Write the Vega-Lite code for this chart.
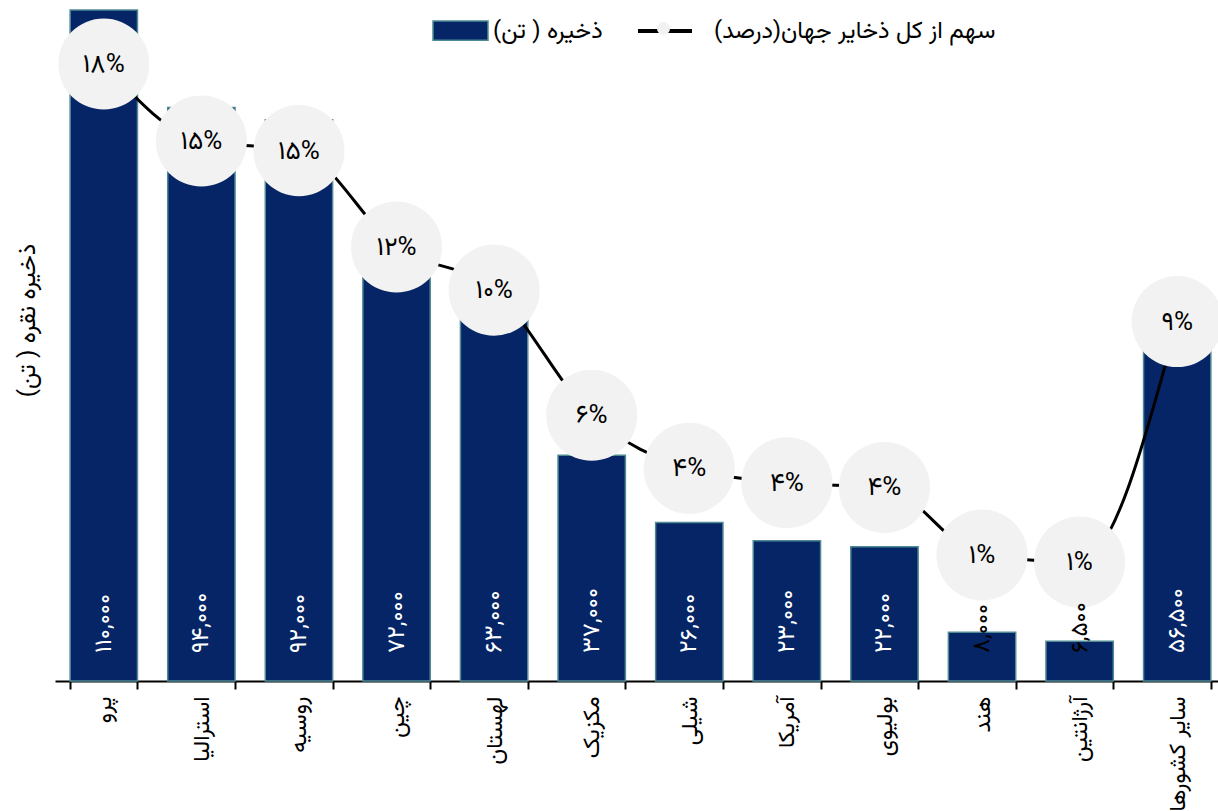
{
  "$schema": "https://vega.github.io/schema/vega-lite/v6.json",
  "autosize": {"type": "none"},
  "padding": {"left": 55, "top": 0, "right": 0, "bottom": 130},
  "width": 1171,
  "height": 681,
  "config": {
    "font": "Vazirmatn, Noto Sans Arabic, Noto Naskh Arabic, DejaVu Sans",
    "view": {"stroke": null}
  },
  "data": {
    "values": [
      {"country": "پرو", "value": 110000, "pct": 18.03, "label": "۱۱۰,۰۰۰", "pctLabel": "۱۸%", "s1": "ذخیره ( تن)", "s2": "سهم از کل ذخایر جهان(درصد)"},
      {"country": "استرالیا", "value": 94000, "pct": 15.41, "label": "۹۴,۰۰۰", "pctLabel": "۱۵%", "s1": "ذخیره ( تن)", "s2": "سهم از کل ذخایر جهان(درصد)"},
      {"country": "روسیه", "value": 92000, "pct": 15.08, "label": "۹۲,۰۰۰", "pctLabel": "۱۵%", "s1": "ذخیره ( تن)", "s2": "سهم از کل ذخایر جهان(درصد)"},
      {"country": "چین", "value": 72000, "pct": 11.8, "label": "۷۲,۰۰۰", "pctLabel": "۱۲%", "s1": "ذخیره ( تن)", "s2": "سهم از کل ذخایر جهان(درصد)"},
      {"country": "لهستان", "value": 63000, "pct": 10.33, "label": "۶۳,۰۰۰", "pctLabel": "۱۰%", "s1": "ذخیره ( تن)", "s2": "سهم از کل ذخایر جهان(درصد)"},
      {"country": "مکزیک", "value": 37000, "pct": 6.07, "label": "۳۷,۰۰۰", "pctLabel": "۶%", "s1": "ذخیره ( تن)", "s2": "سهم از کل ذخایر جهان(درصد)"},
      {"country": "شیلی", "value": 26000, "pct": 4.26, "label": "۲۶,۰۰۰", "pctLabel": "۴%", "s1": "ذخیره ( تن)", "s2": "سهم از کل ذخایر جهان(درصد)"},
      {"country": "آمریکا", "value": 23000, "pct": 3.77, "label": "۲۳,۰۰۰", "pctLabel": "۴%", "s1": "ذخیره ( تن)", "s2": "سهم از کل ذخایر جهان(درصد)"},
      {"country": "بولیوی", "value": 22000, "pct": 3.61, "label": "۲۲,۰۰۰", "pctLabel": "۴%", "s1": "ذخیره ( تن)", "s2": "سهم از کل ذخایر جهان(درصد)"},
      {"country": "هند", "value": 8000, "pct": 1.31, "label": "۸,۰۰۰", "pctLabel": "۱%", "s1": "ذخیره ( تن)", "s2": "سهم از کل ذخایر جهان(درصد)"},
      {"country": "آرژانتین", "value": 6500, "pct": 1.07, "label": "۶,۵۰۰", "pctLabel": "۱%", "s1": "ذخیره ( تن)", "s2": "سهم از کل ذخایر جهان(درصد)"},
      {"country": "سایر کشورها", "value": 56500, "pct": 9.26, "label": "۵۶,۵۰۰", "pctLabel": "۹%", "s1": "ذخیره ( تن)", "s2": "سهم از کل ذخایر جهان(درصد)"}
    ]
  },
  "encoding": {
    "x": {
      "field": "country",
      "type": "nominal",
      "sort": null,
      "scale": {"paddingInner": 0.31, "paddingOuter": 0.155},
      "axis": {
        "title": null,
        "labelAngle": 270,
        "labelAlign": "right",
        "labelBaseline": "middle",
        "labelFontSize": 23,
        "labelColor": "black",
        "labelPadding": 7,
        "labelLimit": 300,
        "domainColor": "black",
        "domainWidth": 2,
        "tickColor": "black",
        "tickWidth": 2,
        "tickSize": 8,
        "tickBand": "extent",
        "labelOverlap": false
      }
    }
  },
  "layer": [
    {
      "mark": {"type": "bar", "stroke": "#4F8A94", "strokeWidth": 1.5},
      "encoding": {
        "y": {
          "field": "value",
          "type": "quantitative",
          "scale": {"domain": [0, 111640], "nice": false},
          "axis": {
            "title": "ذخیره نقره ( تن)",
            "titleAngle": 270,
            "titleFontSize": 24,
            "titleFontWeight": "normal",
            "titleColor": "black",
            "titleX": -28,
            "titleY": 320,
            "titleAlign": "center",
            "titleBaseline": "middle",
            "labels": false,
            "ticks": false,
            "domain": false,
            "grid": false
          }
        },
        "color": {
          "field": "s1",
          "type": "nominal",
          "scale": {"range": ["#052566"]},
          "legend": {
            "title": null,
            "orient": "none",
            "legendX": 377,
            "legendY": 2,
            "symbolType": "M-1,-0.35L1,-0.35L1,0.35L-1,0.35Z",
            "symbolSize": 3025,
            "symbolStrokeColor": "#4F8A94",
            "symbolStrokeWidth": 1.5,
            "labelFontSize": 24,
            "labelColor": "black",
            "labelLimit": 500,
            "labelOffset": 4
          }
        }
      }
    },
    {
      "mark": {"type": "line", "color": "black", "strokeWidth": 3, "interpolate": "monotone"},
      "encoding": {
        "y": {"field": "pct", "type": "quantitative", "scale": {"domain": [-2.98, 20.21], "nice": false}, "axis": null},
        "stroke": {
          "field": "s2",
          "type": "nominal",
          "scale": {"range": ["black"]},
          "legend": {
            "title": null,
            "orient": "none",
            "legendX": 581,
            "legendY": 2,
            "symbolType": "M-1,0L1,0",
            "symbolSize": 2916,
            "symbolStrokeWidth": 4,
            "symbolStrokeColor": "black",
            "labelFontSize": 24,
            "labelColor": "black",
            "labelLimit": 500,
            "labelOffset": 20
          }
        }
      }
    },
    {
      "mark": {"type": "point", "filled": true, "opacity": 1, "size": 8300, "shape": "circle"},
      "encoding": {
        "y": {"field": "pct", "type": "quantitative", "scale": {"domain": [-2.98, 20.21], "nice": false}, "axis": null},
        "fill": {
          "field": "s2",
          "type": "nominal",
          "scale": {"range": ["#F2F2F2"]},
          "legend": {
            "title": null,
            "orient": "none",
            "legendX": 601,
            "legendY": 21,
            "symbolType": "circle",
            "symbolSize": 170,
            "symbolOpacity": 1,
            "labelExpr": "''"
          }
        }
      }
    },
    {
      "mark": {"type": "text", "fontSize": 26, "color": "black", "baseline": "middle", "align": "center"},
      "encoding": {
        "y": {"field": "pct", "type": "quantitative", "scale": {"domain": [-2.98, 20.21], "nice": false}, "axis": null},
        "text": {"field": "pctLabel"}
      }
    },
    {
      "mark": {"type": "text", "angle": 270, "align": "left", "baseline": "middle", "dx": 28, "fontSize": 24},
      "encoding": {
        "y": {"datum": 0, "type": "quantitative", "scale": {"domain": [0, 111640], "nice": false}, "axis": null},
        "text": {"field": "label"},
        "color": {"condition": {"test": "datum.value < 10000", "value": "black"}, "value": "white"}
      }
    }
  ],
  "resolve": {"scale": {"y": "independent"}}
}
